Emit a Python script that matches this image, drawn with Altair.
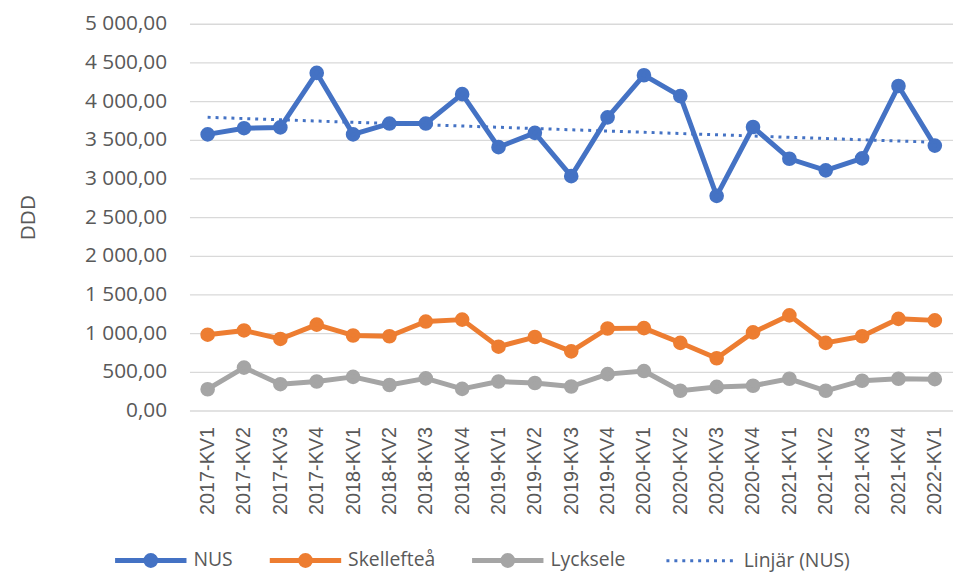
import altair as alt
import numpy as np
import pandas as pd

quarters = [
    "2017-KV1", "2017-KV2", "2017-KV3", "2017-KV4",
    "2018-KV1", "2018-KV2", "2018-KV3", "2018-KV4",
    "2019-KV1", "2019-KV2", "2019-KV3", "2019-KV4",
    "2020-KV1", "2020-KV2", "2020-KV3", "2020-KV4",
    "2021-KV1", "2021-KV2", "2021-KV3", "2021-KV4",
    "2022-KV1",
]
nus = [3570, 3650, 3660, 4365, 3570, 3710, 3710, 4090, 3405, 3590, 3030,
       3790, 4335, 4065, 2775, 3665, 3255, 3105, 3260, 4195, 3425]
skelleftea = [980, 1035, 925, 1110, 970, 960, 1150, 1175, 825, 950, 765,
              1060, 1065, 875, 675, 1010, 1230, 875, 960, 1185, 1165]
lycksele = [275, 555, 340, 375, 435, 330, 415, 280, 375, 355, 310,
            470, 510, 255, 305, 320, 410, 255, 385, 410, 405]

series_names = ["NUS", "Skellefteå", "Lycksele"]
series_colors = ["#4472C4", "#ED7D31", "#A5A5A5"]
trend_name = "Linjär (NUS)"
y_ticks = [0, 500, 1000, 1500, 2000, 2500, 3000, 3500, 4000, 4500, 5000]

rows = []
for name, hexc, vals in zip(series_names, series_colors, [nus, skelleftea, lycksele]):
    for q, v in zip(quarters, vals):
        rows.append({"quarter": q, "series": name, "hex": hexc, "value": v})
df = pd.DataFrame(rows)

idx = np.arange(len(quarters))
slope, intercept = np.polyfit(idx, np.array(nus, dtype=float), 1)
trend_df = pd.DataFrame({
    "quarter": quarters,
    "value": slope * idx + intercept,
    "kind": trend_name,
})

TEXT = "#595959"

x = alt.X(
    "quarter:N", sort=quarters,
    scale=alt.Scale(type="point", padding=0.5),
    axis=alt.Axis(title=None, labelAngle=-90, labelFont="Liberation Sans",
                  labelFontSize=20, labelColor=TEXT, labelPadding=16,
                  domain=False, ticks=False, grid=False),
)
y = alt.Y(
    "value:Q",
    scale=alt.Scale(domain=[0, 5000], nice=False),
    axis=alt.Axis(
        title="DDD", values=y_ticks,
        labelExpr="replace(replace(format(datum.value, ',.2f'), ',', ' '), '.', ',')",
        labelFont="Open Sans", labelFontSize=21, labelColor=TEXT, labelPadding=23,
        titleFont="Open Sans", titleFontSize=21, titleColor=TEXT,
        titleFontWeight="normal", titlePadding=46,
        domain=False, ticks=False, grid=True, gridColor="#D9D9D9", gridWidth=1.3,
    ),
)

color_scale = alt.Scale(domain=series_names, range=series_colors)

sym_path = "M-4,0H4M0.55,0A0.55,0.55,0,1,1,-0.55,0A0.55,0.55,0,1,1,0.55,0"
legend1 = alt.Legend(
    title=None, orient="none", legendX=-50.5, legendY=529.5, direction="horizontal",
    symbolType=sym_path, symbolSize=324, symbolStrokeWidth=5,
    labelFont="Open Sans", labelFontSize=19.5, labelColor=TEXT,
    labelOffset=31.5, columnPadding=26, padding=0,
)
legend2 = alt.Legend(
    title=None, orient="none", legendX=506, legendY=531, direction="horizontal",
    symbolType="M-4,0H4", symbolSize=315, symbolStrokeWidth=3,
    labelFont="Open Sans", labelFontSize=19.5, labelColor=TEXT,
    labelOffset=32, padding=0,
)

lines = alt.Chart(df).mark_line(strokeWidth=5, strokeJoin="round").encode(
    x=x, y=y,
    color=alt.Color("hex:N", scale=None),
)
points = alt.Chart(df).mark_point(filled=False, size=95, strokeWidth=5, opacity=1).encode(
    x=x, y=y,
    color=alt.Color("series:N", scale=color_scale, legend=legend1),
    fill=alt.Fill("series:N", scale=color_scale, legend=legend1),
)
trend = alt.Chart(trend_df).mark_line(strokeWidth=3, color="#4472C4").encode(
    x=x, y=y,
    strokeDash=alt.StrokeDash("kind:N", scale=alt.Scale(domain=[trend_name], range=[[3, 5]]),
                              legend=legend2),
)

chart = alt.layer(lines, points, trend).properties(
    width=770, height=390,
    autosize=alt.AutoSizeParams(type="none"),
    padding={"left": 183, "top": 13.5, "right": 0, "bottom": 165},
    background="white",
).configure_view(stroke=None)

chart.save("out.html", embed_options={"renderer": "svg", "actions": False})
